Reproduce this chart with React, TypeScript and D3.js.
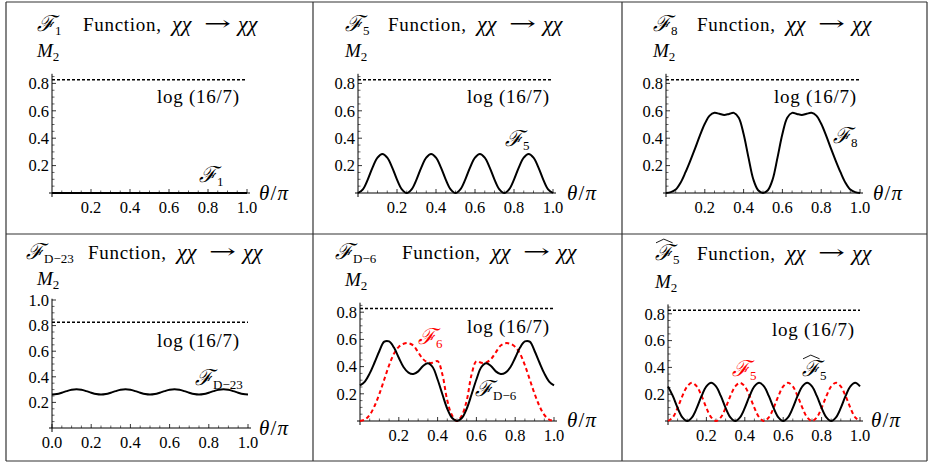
import React from "react";
import * as d3 from "d3";

// sampling grid for every curve: θ/π from 0 to 1 in steps of 0.025
const theta = d3.range(0, 41).map((i) => i / 40);

const f1 = [
  0, 0, 0, 0, 0, 0, 0, 0, 0, 0, 0, 0, 0, 0, 0, 0, 0, 0, 0, 0, 0,
  0, 0, 0, 0, 0, 0, 0, 0, 0, 0, 0, 0, 0, 0, 0, 0, 0, 0, 0, 0,
];
const f5 = [
  0, 0.027, 0.098, 0.187, 0.258, 0.285, 0.258, 0.187, 0.098, 0.027,
  0, 0.027, 0.098, 0.187, 0.258, 0.285, 0.258, 0.187, 0.098, 0.027,
  0, 0.027, 0.098, 0.187, 0.258, 0.285, 0.258, 0.187, 0.098, 0.027,
  0, 0.027, 0.098, 0.187, 0.258, 0.285, 0.258, 0.187, 0.098, 0.027, 0,
];
const f8 = [
  0, 0.006, 0.025, 0.075, 0.15, 0.235, 0.325, 0.42, 0.505, 0.565,
  0.585, 0.578, 0.57, 0.577, 0.585, 0.55, 0.43, 0.26, 0.1, 0.02,
  0, 0.02, 0.1, 0.26, 0.43, 0.55, 0.585, 0.577, 0.57, 0.578,
  0.585, 0.565, 0.505, 0.42, 0.325, 0.235, 0.15, 0.075, 0.025, 0.006, 0,
];
const fD23 = [
  0.262, 0.266, 0.276, 0.288, 0.298, 0.302, 0.298, 0.288, 0.276, 0.266,
  0.262, 0.266, 0.276, 0.288, 0.298, 0.302, 0.298, 0.288, 0.276, 0.266,
  0.262, 0.266, 0.276, 0.288, 0.298, 0.302, 0.298, 0.288, 0.276, 0.266,
  0.262, 0.266, 0.276, 0.288, 0.298, 0.302, 0.298, 0.288, 0.276, 0.266, 0.262,
];
const fD6 = [
  0.262, 0.29, 0.35, 0.43, 0.515, 0.583, 0.585, 0.54, 0.465, 0.395,
  0.355, 0.345, 0.365, 0.405, 0.425, 0.395, 0.305, 0.195, 0.09, 0.022,
  0, 0.022, 0.09, 0.195, 0.305, 0.395, 0.425, 0.405, 0.365, 0.345,
  0.355, 0.395, 0.465, 0.54, 0.585, 0.583, 0.515, 0.43, 0.35, 0.29, 0.262,
];
const f6 = [
  0, 0.01, 0.045, 0.11, 0.2, 0.305, 0.41, 0.495, 0.545, 0.568,
  0.572, 0.555, 0.505, 0.455, 0.43, 0.428, 0.44, 0.34, 0.15, 0.04,
  0, 0.04, 0.15, 0.34, 0.44, 0.428, 0.43, 0.455, 0.505, 0.555,
  0.572, 0.568, 0.545, 0.495, 0.41, 0.305, 0.2, 0.11, 0.045, 0.01, 0,
];
const f5hat = [
  0.258, 0.187, 0.098, 0.027, 0, 0.027, 0.098, 0.187, 0.258, 0.285,
  0.258, 0.187, 0.098, 0.027, 0, 0.027, 0.098, 0.187, 0.258, 0.285,
  0.258, 0.187, 0.098, 0.027, 0, 0.027, 0.098, 0.187, 0.258, 0.285,
  0.258, 0.187, 0.098, 0.027, 0, 0.027, 0.098, 0.187, 0.258, 0.285, 0.258,
];

// bound drawn as the dashed line, log(16/7)
const bound = Math.log(16 / 7);

const xTicksShort = [0.2, 0.4, 0.6, 0.8, 1.0];
const xTicksLong = [0, 0.2, 0.4, 0.6, 0.8, 1.0];
const yTicksShort = [0.2, 0.4, 0.6, 0.8];
const yTicksLong = [0.2, 0.4, 0.6, 0.8, 1.0];

const SERIF = "Liberation Serif, DejaVu Serif, serif";
const RED = "#f00";

type Series = { values: number[]; color: string; dashed?: boolean };
type CurveLabel = { x: number; y: number; color: string; sub: string; hat?: boolean };
type Panel = {
  sub: string;
  hat?: boolean;
  fx: number; // x of the title's script F
  fnx: number; // x of "Function,"
  ty: number;
  my: number; // M2 baseline
  mx: number;
  ox: number;
  oy: number;
  w: number;
  k: number; // px per unit on the y axis
  ymax: number;
  xTicks: number[];
  yTicks: number[];
  logX: number;
  logY: number;
  axX: number;
  axY: number;
  series: Series[];
  labels: CurveLabel[];
};

const panels: Panel[] = [
  {
    sub: "1", fx: 37, fnx: 83, ty: 31, mx: 37, my: 57,
    ox: 52, oy: 193, w: 195, k: 137, ymax: 0.87,
    xTicks: xTicksShort, yTicks: yTicksShort,
    logX: 157, logY: 103, axX: 259, axY: 200,
    series: [{ values: f1, color: "#000" }],
    labels: [{ x: 199, y: 182, color: "#000", sub: "1" }],
  },
  {
    sub: "5", fx: 345, fnx: 388, ty: 31, mx: 345, my: 57,
    ox: 358, oy: 193, w: 195, k: 137, ymax: 0.87,
    xTicks: xTicksShort, yTicks: yTicksShort,
    logX: 467, logY: 103, axX: 567, axY: 200,
    series: [{ values: f5, color: "#000" }],
    labels: [{ x: 505, y: 146, color: "#000", sub: "5" }],
  },
  {
    sub: "8", fx: 653, fnx: 697, ty: 31, mx: 653, my: 57,
    ox: 666, oy: 193, w: 194, k: 137, ymax: 0.87,
    xTicks: xTicksShort, yTicks: yTicksShort,
    logX: 774, logY: 103, axX: 873, axY: 200,
    series: [{ values: f8, color: "#000" }],
    labels: [{ x: 833, y: 143, color: "#000", sub: "8" }],
  },
  {
    sub: "D\u221223", fx: 26, fnx: 88, ty: 259, mx: 37, my: 285,
    ox: 52, oy: 428, w: 196, k: 128, ymax: 1.01,
    xTicks: xTicksLong, yTicks: yTicksLong,
    logX: 157, logY: 347, axX: 259, axY: 435,
    series: [{ values: fD23, color: "#000" }],
    labels: [{ x: 195, y: 385, color: "#000", sub: "D\u221223" }],
  },
  {
    sub: "D\u22126", fx: 335, fnx: 402, ty: 259, mx: 345, my: 286,
    ox: 360, oy: 421, w: 194, k: 136, ymax: 0.87,
    xTicks: xTicksShort, yTicks: yTicksShort,
    logX: 467, logY: 333, axX: 567, axY: 427,
    series: [
      { values: f6, color: RED, dashed: true },
      { values: fD6, color: "#000" },
    ],
    labels: [
      { x: 418, y: 344, color: RED, sub: "6" },
      { x: 475, y: 396, color: "#000", sub: "D\u22126" },
    ],
  },
  {
    sub: "5", hat: true, fx: 655, fnx: 697, ty: 260, mx: 655, my: 288,
    ox: 668, oy: 421, w: 192, k: 134, ymax: 0.87,
    xTicks: xTicksShort, yTicks: yTicksShort,
    logX: 772, logY: 336, axX: 871, axY: 427,
    series: [
      { values: f5, color: RED, dashed: true },
      { values: f5hat, color: "#000" },
    ],
    labels: [
      { x: 732, y: 376, color: RED, sub: "5" },
      { x: 802, y: 376, color: "#000", sub: "5", hat: true },
    ],
  },
];

const txt = (size: number, extra: React.CSSProperties = {}): React.CSSProperties => ({
  fontFamily: SERIF,
  fontSize: size,
  ...extra,
});
const ital = { fontStyle: "italic" as const };

const ScriptF = ({ x, y, sub, hat, color = "#000", size = 22 }: {
  x: number; y: number; sub: string; hat?: boolean; color?: string; size?: number;
}) => (
  <g>
    {hat && (
      <path
        d={`M${x + 1},${y - size * 0.78} L${x + size * 0.4},${y - size * 0.95} L${x + size * 0.8},${y - size * 0.78}`}
        fill="none" stroke={color} strokeWidth={0.9}
      />
    )}
    <text x={x} y={y} fill={color} style={txt(size)}>
      <tspan style={ital}>ℱ</tspan>
      <tspan style={{ fontSize: 13 }} dy={4}>{sub}</tspan>
    </text>
  </g>
);

const PanelView = ({ p }: { p: Panel }) => {
  const x = d3.scaleLinear().domain([0, 1]).range([p.ox, p.ox + p.w]);
  const y = d3.scaleLinear().domain([0, 1]).range([p.oy, p.oy - p.k]);
  const line = d3
    .line<number>()
    .x((_, i) => x(theta[i]))
    .y((v) => y(v))
    .curve(d3.curveCatmullRom.alpha(0.5));

  const isMinor = (t: number) => Math.abs(t * 5 - Math.round(t * 5)) > 0.01;
  const minorX = d3.range(1, 20).map((i) => i * 0.05).filter(isMinor);
  const minorY = d3.range(1, Math.floor(p.ymax / 0.05) + 1).map((i) => i * 0.05).filter(isMinor);
  const fmt = d3.format(".1f");
  const cx = p.fnx + 89;

  return (
    <g>
      {/* title */}
      <ScriptF x={p.fx} y={p.ty} sub={p.sub} hat={p.hat} />
      <text x={p.fnx} y={p.ty} style={txt(19)} textLength={78} lengthAdjust="spacing">Function,</text>
      <text x={cx} y={p.ty} style={txt(22, ital)}>χχ</text>
      <text
        x={cx + 32} y={p.ty - 1}
        style={{ fontFamily: "DejaVu Serif, serif", fontSize: 20 }}
        textLength={27} lengthAdjust="spacingAndGlyphs"
      >→</text>
      <text x={cx + 66} y={p.ty} style={txt(22, ital)}>χχ</text>
      <text x={p.mx} y={p.my} style={txt(19)}>
        <tspan style={ital}>M</tspan>
        <tspan style={{ fontSize: 13 }} dy={4}>2</tspan>
      </text>

      {/* axes */}
      <line x1={p.ox - 3} x2={p.ox + p.w + 3} y1={p.oy} y2={p.oy} stroke="#000" strokeWidth={1} />
      <line x1={p.ox} x2={p.ox} y1={p.oy + 4} y2={y(p.ymax)} stroke="#000" strokeWidth={1} />
      {p.xTicks.map((t) => (
        <g key={`xt${t}`}>
          <line x1={x(t)} x2={x(t)} y1={p.oy} y2={p.oy - 4} stroke="#000" strokeWidth={0.8} />
          <text x={x(t)} y={p.oy + 20} textAnchor="middle" style={txt(16.5)}>{fmt(t)}</text>
        </g>
      ))}
      {minorX.map((t) => (
        <line key={`xm${t}`} x1={x(t)} x2={x(t)} y1={p.oy} y2={p.oy - 2.5} stroke="#000" strokeWidth={0.6} />
      ))}
      {p.yTicks.map((t) => (
        <g key={`yt${t}`}>
          <line x1={p.ox} x2={p.ox + 4} y1={y(t)} y2={y(t)} stroke="#000" strokeWidth={0.8} />
          <text x={p.ox - 3} y={y(t)} dy="0.35em" textAnchor="end" style={txt(16.5)}>{fmt(t)}</text>
        </g>
      ))}
      {minorY.map((t) => (
        <line key={`ym${t}`} x1={p.ox} x2={p.ox + 2.5} y1={y(t)} y2={y(t)} stroke="#000" strokeWidth={0.6} />
      ))}
      <text x={p.axX} y={p.axY} style={txt(21)} textLength={29} lengthAdjust="spacing">
        <tspan style={ital}>θ</tspan>/<tspan style={ital}>π</tspan>
      </text>

      {/* bound */}
      <line x1={p.ox} x2={p.ox + p.w} y1={y(bound)} y2={y(bound)} stroke="#000" strokeWidth={1.6} strokeDasharray="3 2" />
      <text x={p.logX} y={p.logY} style={txt(19)} textLength={82} lengthAdjust="spacing">log (16/7)</text>

      {/* curves */}
      {p.series.map((s, i) => (
        <path
          key={i}
          d={line(s.values) ?? ""}
          fill="none"
          stroke={s.color}
          strokeWidth={2}
          strokeDasharray={s.dashed ? "4 3" : undefined}
        />
      ))}
      {p.labels.map((l, i) => (
        <ScriptF key={i} x={l.x} y={l.y} sub={l.sub} hat={l.hat} color={l.color} />
      ))}
    </g>
  );
};

export default function App() {
  const colX = [6, 313, 622, 927];
  const rowY = [2, 234, 461];
  return (
    <svg
      width={935}
      height={470}
      style={{ position: "absolute", left: 0, top: 0, background: "#fff" }}
    >
      <rect x={0} y={0} width={935} height={470} fill="#fff" />
      {/* table frame */}
      <g stroke="#333" strokeWidth={1.2}>
        {colX.map((cx) => (
          <line key={`c${cx}`} x1={cx} x2={cx} y1={rowY[0]} y2={rowY[2]} />
        ))}
        {rowY.map((ry) => (
          <line key={`r${ry}`} x1={colX[0]} x2={colX[3]} y1={ry} y2={ry} />
        ))}
      </g>
      {panels.map((p, i) => (
        <PanelView key={i} p={p} />
      ))}
    </svg>
  );
}
